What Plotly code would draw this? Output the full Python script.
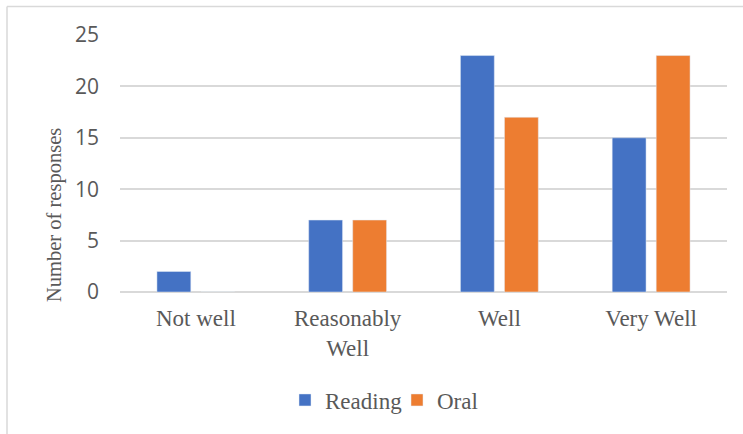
import plotly.graph_objects as go

categories = ["Not well", "Reasonably<br>Well", "Well", "Very Well"]
reading = [2, 7, 23, 15]
oral = [0, 7, 17, 23]

W, H = 743, 434
ML, MR, MT, MB = 120, 16, 35, 142
PW, PH = W - ML - MR, H - MT - MB

def px_x(x):
    return (x - ML) / PW

def px_y(y):
    return (H - MB - y) / PH

TXT = "#595959"
SERIF = "Liberation Serif, Times New Roman, serif"
SANS = "Open Sans, Liberation Sans, sans-serif"

fig = go.Figure()
fig.add_bar(name="Reading", x=categories, y=reading, marker=dict(color="#4472C4"))
fig.add_bar(name="Oral", x=categories, y=oral, marker=dict(color="#ED7D31"))

fig.update_layout(
    width=W, height=H,
    margin=dict(l=ML, r=MR, t=MT, b=MB),
    paper_bgcolor="white", plot_bgcolor="white",
    barmode="group", bargap=0.42, bargroupgap=0.23,
    showlegend=True,
    legend=dict(orientation="h", x=px_x(397), xanchor="center",
                y=px_y(400), yanchor="middle",
                font=dict(family=SERIF, size=23, color=TXT),
                itemwidth=30, entrywidth=67, entrywidthmode="pixels",
                traceorder="normal"),
    xaxis=dict(tickfont=dict(family=SERIF, size=23, color=TXT),
               showgrid=False, showline=False, ticks="", ticklabelstandoff=10),
    yaxis=dict(range=[0, 25], dtick=5, tickfont=dict(family=SANS, size=21, color=TXT),
               showgrid=True, gridcolor="#d9d9d9", gridwidth=1.5,
               zeroline=True, zerolinecolor="#d9d9d9", zerolinewidth=1.5,
               showline=False, ticks="", ticklabelstandoff=20),
    annotations=[dict(text="Number of responses", textangle=-90,
                      xref="paper", yref="paper", x=px_x(54), y=px_y(215),
                      xanchor="center", yanchor="middle", showarrow=False,
                      font=dict(family=SERIF, size=20.5, color=TXT))],
    shapes=[
        dict(type="line", xref="paper", yref="paper",
             x0=px_x(7), x1=px_x(7), y0=px_y(440), y1=px_y(6.5),
             line=dict(color="#d9d9d9", width=1.5)),
        dict(type="line", xref="paper", yref="paper",
             x0=px_x(7), x1=px_x(750), y0=px_y(6.5), y1=px_y(6.5),
             line=dict(color="#d9d9d9", width=1.5)),
    ],
)

fig.write_html("out.html")
